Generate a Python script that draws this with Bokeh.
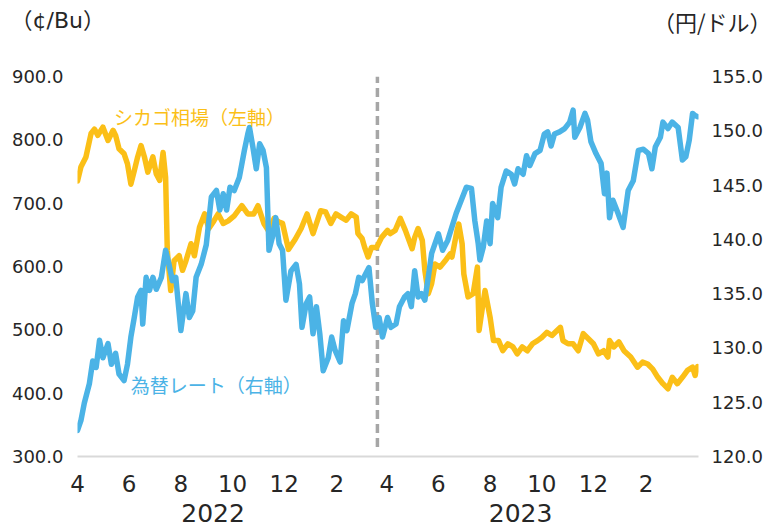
import pandas as pd
from bokeh.plotting import figure
from bokeh.layouts import column
from bokeh.models import Range1d, LinearAxis, FixedTicker, Label, NumeralTickFormatter
from bokeh.core.properties import value
from bokeh.embed import file_html
from bokeh.resources import INLINE

# ---------------- data ----------------
corn_dates = [
    "2022-04-01", "2022-04-05", "2022-04-11", "2022-04-17", "2022-04-21", "2022-04-25",
    "2022-05-01", "2022-05-07", "2022-05-13", "2022-05-16", "2022-05-20", "2022-05-26",
    "2022-05-30", "2022-06-03", "2022-06-07", "2022-06-11", "2022-06-15", "2022-06-19",
    "2022-06-23", "2022-06-29", "2022-07-03", "2022-07-07", "2022-07-11", "2022-07-14",
    "2022-07-16", "2022-07-20", "2022-07-24", "2022-07-30", "2022-08-03", "2022-08-07",
    "2022-08-13", "2022-08-17", "2022-08-23", "2022-08-29", "2022-09-03", "2022-09-09",
    "2022-09-14", "2022-09-20", "2022-09-26", "2022-10-03", "2022-10-12", "2022-10-19",
    "2022-10-26", "2022-10-31", "2022-11-07", "2022-11-13", "2022-11-19", "2022-11-25",
    "2022-11-29", "2022-12-06", "2022-12-14", "2022-12-21", "2022-12-28", "2023-01-04",
    "2023-01-13", "2023-01-19", "2023-01-25", "2023-01-31", "2023-02-06", "2023-02-12",
    "2023-02-18", "2023-02-24", "2023-02-26", "2023-03-03", "2023-03-06", "2023-03-10",
    "2023-03-14", "2023-03-20", "2023-03-26", "2023-04-02", "2023-04-05", "2023-04-11",
    "2023-04-17", "2023-04-23", "2023-04-26", "2023-05-01", "2023-05-04", "2023-05-08",
    "2023-05-13", "2023-05-16", "2023-05-20", "2023-05-24", "2023-05-28", "2023-06-03",
    "2023-06-09", "2023-06-15", "2023-06-17", "2023-06-23", "2023-06-25", "2023-06-29",
    "2023-07-01", "2023-07-06", "2023-07-12", "2023-07-17", "2023-07-19", "2023-07-23",
    "2023-07-26", "2023-08-01", "2023-08-05", "2023-08-11", "2023-08-16", "2023-08-22",
    "2023-08-28", "2023-09-02", "2023-09-08", "2023-09-14", "2023-09-20", "2023-09-26",
    "2023-10-01", "2023-10-07", "2023-10-13", "2023-10-19", "2023-10-23", "2023-10-26",
    "2023-11-01", "2023-11-07", "2023-11-13", "2023-11-19", "2023-11-25", "2023-12-01",
    "2023-12-07", "2023-12-13", "2023-12-18", "2023-12-20", "2023-12-25", "2023-12-31",
    "2024-01-06", "2024-01-14", "2024-01-22", "2024-01-28", "2024-02-03", "2024-02-09",
    "2024-02-15", "2024-02-21", "2024-02-27", "2024-03-03", "2024-03-09", "2024-03-15",
    "2024-03-21", "2024-03-27", "2024-03-30", "2024-04-02",
]
corn_values = [
    735, 757, 773, 810, 817, 807,
    820, 799, 815, 807, 786, 778,
    762, 730, 751, 773, 791, 773,
    749, 773, 746, 736, 780, 741,
    625, 562, 609, 617, 594, 609,
    636, 617, 662, 683, 660, 672,
    683, 668, 672, 680, 696, 683,
    683, 696, 668, 655, 676, 670,
    668, 627, 643, 660, 683, 652,
    688, 686, 668, 683, 678, 673,
    683, 678, 652, 644, 630, 615,
    630, 630, 646, 657, 652, 657,
    676, 657, 646, 628, 646, 660,
    641, 594, 557, 573, 604, 599,
    609, 620, 615, 657, 667, 636,
    588, 552, 557, 599, 499, 536,
    562, 520, 483, 483, 467, 478,
    473, 462, 473, 467, 478, 483,
    488, 496, 491, 499, 504, 483,
    478, 478, 467, 494, 486, 478,
    462, 467, 457, 483, 473, 481,
    467, 457, 441, 449, 446, 438,
    425, 415, 407, 425, 415, 425,
    436, 441, 428, 442,
]

fx_dates = [
    "2022-04-01", "2022-04-05", "2022-04-09", "2022-04-15", "2022-04-19", "2022-04-23",
    "2022-04-27", "2022-05-01", "2022-05-07", "2022-05-11", "2022-05-16", "2022-05-20",
    "2022-05-26", "2022-05-30", "2022-06-03", "2022-06-07", "2022-06-11", "2022-06-15",
    "2022-06-17", "2022-06-21", "2022-06-25", "2022-06-29", "2022-07-03", "2022-07-09",
    "2022-07-14", "2022-07-18", "2022-07-22", "2022-07-26", "2022-08-01", "2022-08-07",
    "2022-08-11", "2022-08-15", "2022-08-19", "2022-08-25", "2022-08-31", "2022-09-06",
    "2022-09-12", "2022-09-16", "2022-09-20", "2022-09-24", "2022-09-28", "2022-10-03",
    "2022-10-09", "2022-10-15", "2022-10-19", "2022-10-21", "2022-10-25", "2022-10-29",
    "2022-11-02", "2022-11-06", "2022-11-10", "2022-11-13", "2022-11-17", "2022-11-21",
    "2022-11-25", "2022-11-29", "2022-12-03", "2022-12-09", "2022-12-15", "2022-12-19",
    "2022-12-22", "2022-12-27", "2022-12-31", "2023-01-04", "2023-01-08", "2023-01-12",
    "2023-01-16", "2023-01-22", "2023-01-26", "2023-01-30", "2023-02-05", "2023-02-09",
    "2023-02-13", "2023-02-19", "2023-02-23", "2023-02-27", "2023-03-03", "2023-03-07",
    "2023-03-11", "2023-03-15", "2023-03-19", "2023-03-23", "2023-03-27", "2023-04-02",
    "2023-04-06", "2023-04-12", "2023-04-16", "2023-04-22", "2023-04-26", "2023-04-30",
    "2023-05-04", "2023-05-08", "2023-05-12", "2023-05-16", "2023-05-20", "2023-05-24",
    "2023-06-01", "2023-06-06", "2023-06-12", "2023-06-18", "2023-06-22", "2023-06-28",
    "2023-07-04", "2023-07-10", "2023-07-14", "2023-07-18", "2023-07-20", "2023-07-24",
    "2023-07-28", "2023-08-01", "2023-08-04", "2023-08-10", "2023-08-14", "2023-08-20",
    "2023-08-26", "2023-08-30", "2023-09-03", "2023-09-09", "2023-09-13", "2023-09-17",
    "2023-09-23", "2023-09-29", "2023-10-04", "2023-10-08", "2023-10-12", "2023-10-16",
    "2023-10-22", "2023-10-28", "2023-11-03", "2023-11-07", "2023-11-09", "2023-11-15",
    "2023-11-21", "2023-11-24", "2023-11-28", "2023-12-04", "2023-12-10", "2023-12-14",
    "2023-12-17", "2023-12-20", "2023-12-24", "2023-12-30", "2024-01-05", "2024-01-11",
    "2024-01-17", "2024-01-23", "2024-01-29", "2024-02-04", "2024-02-08", "2024-02-12",
    "2024-02-18", "2024-02-21", "2024-02-27", "2024-03-03", "2024-03-10", "2024-03-15",
    "2024-03-19", "2024-03-23", "2024-03-27", "2024-03-30", "2024-04-02",
]
fx_values = [
    122.4, 123.3, 124.9, 126.7, 128.8, 128.2,
    130.7, 129.1, 130.4, 128.5, 129.5, 127.6,
    127.0, 128.5, 131.0, 132.8, 134.7, 135.3,
    132.2, 136.5, 135.3, 136.5, 135.4, 136.5,
    139.0, 137.7, 136.2, 136.5, 131.6, 135.0,
    132.8, 133.4, 136.5, 137.7, 139.5, 143.9,
    144.5, 142.7, 144.2, 142.7, 144.8, 144.5,
    145.7, 148.2, 149.7, 150.3, 148.5, 146.5,
    148.8, 148.2, 146.6, 139.0, 140.2, 142.0,
    139.6, 139.0, 134.4, 137.1, 137.7, 135.9,
    131.9, 134.1, 134.7, 131.3, 133.8, 131.3,
    127.9, 129.1, 131.0, 129.8, 128.7, 132.5,
    131.6, 134.1, 135.0, 136.5, 136.2, 136.8,
    137.4, 134.1, 131.9, 132.8, 131.0, 132.8,
    131.9, 132.2, 133.8, 134.7, 135.0, 133.8,
    137.1, 134.7, 135.0, 134.4, 136.5, 138.7,
    140.5, 139.0, 139.9, 141.4, 142.4, 143.6,
    144.8, 144.7, 141.7, 139.6, 138.1, 139.3,
    141.7, 139.6, 143.3, 142.0, 144.8, 146.3,
    146.0, 145.1, 146.5, 146.0, 147.7, 146.8,
    147.9, 148.2, 149.7, 149.9, 148.6, 149.7,
    149.9, 150.2, 150.8, 151.9, 149.4, 150.3,
    151.6, 151.0, 149.0, 147.9, 147.0, 144.2,
    146.1, 142.0, 143.6, 142.4, 141.1, 144.5,
    145.4, 148.2, 148.3, 147.9, 146.5, 148.5,
    149.4, 150.8, 150.2, 150.8, 150.3, 147.3,
    147.6, 149.1, 151.6, 151.4, 151.3,
]

month_ticks = ["2022-04-01", "2022-06-01", "2022-08-01", "2022-10-01", "2022-12-01", "2023-02-01",
               "2023-04-01", "2023-06-01", "2023-08-01", "2023-10-01", "2023-12-01", "2024-02-01"]
month_labels = ["4", "6", "8", "10", "12", "2", "4", "6", "8", "10", "12", "2"]
year_ticks = ["2022-09-08", "2023-09-06"]
year_labels = ["2022", "2023"]
x_span = ("2022-04-01", "2024-04-03")
marker_date = "2023-03-21"

left_range = (300, 900)
left_ticks = [300, 400, 500, 600, 700, 800, 900]
right_range = (120, 155)
right_ticks = [120, 125, 130, 135, 140, 145, 150, 155]

corn_name = "シカゴ相場（左軸）"
fx_name = "為替レート（右軸）"
left_unit = "（¢/Bu）"
right_unit = "（円/ドル）"

ORANGE = "#FBBF17"
BLUE = "#4BB3E6"
GREY = "#A6A6A6"
TXT = "#262626"
NUM_FONT = "DejaVu Sans"
JP_FONT = "Noto Sans CJK JP"

W, H, HDR = 771, 526, 40


def ms(s):
    return int(pd.Timestamp(s).value // 10**6)


# ---------------- header strip with the unit labels ----------------
hdr = figure(width=W, height=HDR, output_backend="svg", toolbar_location=None,
             x_range=Range1d(0, W), y_range=Range1d(0, HDR),
             x_axis_location=None, y_axis_location=None, min_border=0)
hdr.frame_align = False
hdr.outline_line_color = None
hdr.grid.visible = False
hdr.text(x=[10], y=[HDR - 20], text=[left_unit], text_color=TXT,
         text_font=value("DejaVu Sans, Noto Sans CJK JP"),
         text_font_size="22px", text_baseline="middle", text_align="left")
hdr.text(x=[W], y=[HDR - 20], text=[right_unit], text_color=TXT, text_font=value(JP_FONT),
         text_font_size="22px", text_baseline="middle", text_align="right")

# ---------------- main chart ----------------
p = figure(width=W, height=H - HDR, output_backend="svg", toolbar_location=None,
           x_axis_type="datetime",
           x_range=Range1d(ms(x_span[0]), ms(x_span[1])),
           y_range=Range1d(*left_range),
           min_border_left=77, min_border_right=W - 698, min_border_top=76 - HDR,
           min_border_bottom=H - 456)
p.frame_align = False
p.outline_line_color = None
p.xgrid.visible = False
p.ygrid.visible = False

p.extra_y_ranges = {"fx": Range1d(*right_range)}

# marker line
p.segment(x0=[ms(marker_date)], y0=[left_range[0] + 15], x1=[ms(marker_date)], y1=[left_range[1]],
          line_color=GREY, line_width=3.5, line_dash="9 5")

corn_x = [pd.Timestamp(d) for d in corn_dates]
fx_x = [pd.Timestamp(d) for d in fx_dates]
p.line(corn_x, corn_values, line_color=ORANGE, line_width=5.5, line_join="round", line_cap="round")
p.line(fx_x, fx_values, line_color=BLUE, line_width=5.5, line_join="round", line_cap="round",
       y_range_name="fx")


def style_axis(ax, size, standoff):
    ax.major_tick_line_color = None
    ax.minor_tick_line_color = None
    ax.major_tick_in = 0
    ax.major_tick_out = 0
    ax.minor_tick_in = 0
    ax.minor_tick_out = 0
    ax.major_label_text_font = NUM_FONT
    ax.major_label_text_font_size = size
    ax.major_label_text_color = TXT
    ax.major_label_standoff = standoff


ly = p.yaxis[0]
ly.ticker = FixedTicker(ticks=left_ticks)
ly.formatter = NumeralTickFormatter(format="0.0")
ly.axis_line_color = None
style_axis(ly, "18px", 14)

ry = LinearAxis(y_range_name="fx", ticker=FixedTicker(ticks=right_ticks),
                formatter=NumeralTickFormatter(format="0.0"))
ry.axis_line_color = None
style_axis(ry, "18px", 13)
p.add_layout(ry, "right")

xa = p.xaxis[0]
xa.ticker = FixedTicker(ticks=[ms(t) for t in month_ticks])
xa.major_label_overrides = {ms(t): l for t, l in zip(month_ticks, month_labels)}
xa.axis_line_color = "#D9D9D9"
xa.axis_line_width = 2
style_axis(xa, "23px", 18)

ya = LinearAxis(ticker=FixedTicker(ticks=[ms(t) for t in year_ticks]))
ya.major_label_overrides = {ms(t): l for t, l in zip(year_ticks, year_labels)}
ya.axis_line_color = None
style_axis(ya, "25px", 9)
p.add_layout(ya, "below")

# series annotations
p.add_layout(Label(x=ms("2022-05-14"), y=837, text=corn_name, text_color=ORANGE,
                   text_font=JP_FONT, text_font_size="19px", text_baseline="middle"))
p.add_layout(Label(x=ms("2022-06-03"), y=414, text=fx_name, text_color=BLUE,
                   text_font=JP_FONT, text_font_size="19px", text_baseline="middle"))

open("out.html", "w").write(file_html(column(hdr, p, spacing=0), INLINE))
